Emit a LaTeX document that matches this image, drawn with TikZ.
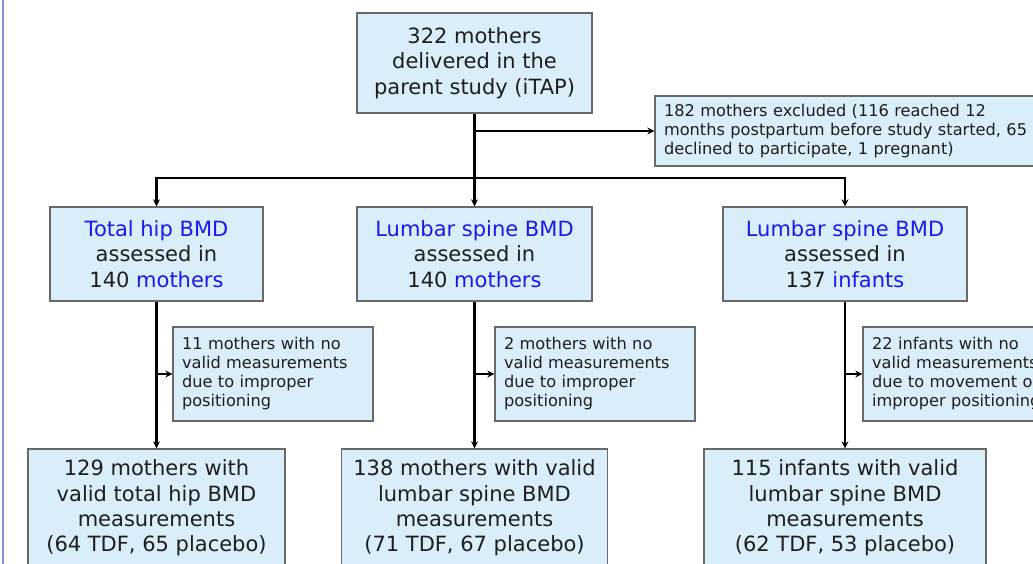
\documentclass[tikz,border=0pt]{standalone}
\usepackage{fontspec}
\setmainfont{DejaVu Sans}
\usetikzlibrary{arrows.meta}
\definecolor{boxfill}{RGB}{218,238,250}
\definecolor{boxdraw}{RGB}{105,105,105}
\definecolor{txt}{RGB}{30,30,30}
\definecolor{hl}{RGB}{25,25,235}
\definecolor{edge}{RGB}{125,145,215}
\tikzset{
  bigbox/.style={draw=boxdraw, fill=boxfill, line width=1.3pt, text=txt, align=center, inner sep=0pt,
    font=\fontsize{21}{25.3}\selectfont},
  smallbox/.style={draw=boxdraw, fill=boxfill, line width=1.3pt, text=txt, align=left, inner xsep=9pt, inner ysep=0pt,
    font=\fontsize{16.2}{19}\selectfont},
  conn/.style={line width=2.2pt, black},
  arr/.style={conn, -{Stealth[length=7pt,width=7pt]}}
}
\newcommand{\hb}[1]{\textcolor{hl}{#1}}
\begin{document}
\begin{tikzpicture}[x=1pt,y=-1pt]
\useasboundingbox (0,0) rectangle (1033,564);
\clip (0,0) rectangle (1033,564);
\fill[white] (0,0) rectangle (1033,564);
\draw[edge, line width=2pt] (3,-5) -- (3,570);

\node[bigbox, minimum width=235pt, minimum height=100pt] (top) at (474.5,63) {322 mothers\\delivered in the\\parent study (iTAP)};
\node[smallbox, minimum width=400pt, minimum height=70pt, text width=382pt] (excl) at (855,131) {182 mothers excluded (116 reached 12\\months postpartum before study started, 65\\declined to participate, 1 pregnant)};

\node[bigbox, minimum width=213pt, minimum height=94pt] (a1) at (156.5,254) {\hb{Total hip BMD}\\assessed in\\140 \hb{mothers}};
\node[bigbox, minimum width=235pt, minimum height=94pt] (a2) at (474.5,254) {\hb{Lumbar spine BMD}\\assessed in\\140 \hb{mothers}};
\node[bigbox, minimum width=244pt, minimum height=94pt] (a3) at (845,254) {\hb{Lumbar spine BMD}\\assessed in\\137 \hb{infants}};

\node[smallbox, minimum width=200pt, minimum height=94pt, text width=182pt] (s1) at (273,374) {11 mothers with no\\valid measurements\\due to improper\\positioning};
\node[smallbox, minimum width=200pt, minimum height=94pt, text width=182pt] (s2) at (595,374) {2 mothers with no\\valid measurements\\due to improper\\positioning};
\node[smallbox, minimum width=220pt, minimum height=94pt, text width=202pt] (s3) at (973,374) {22 infants with no\\valid measurements\\due to movement or\\improper positioning};

\node[bigbox, minimum width=257pt, minimum height=118pt] (b1) at (156.5,508) {129 mothers with\\valid total hip BMD\\measurements\\(64 TDF, 65 placebo)};
\node[bigbox, minimum width=266pt, minimum height=118pt] (b2) at (474.5,508) {138 mothers with valid\\lumbar spine BMD\\measurements\\(71 TDF, 67 placebo)};
\node[bigbox, minimum width=282pt, minimum height=118pt] (b3) at (845,508) {115 infants with valid\\lumbar spine BMD\\measurements\\(62 TDF, 53 placebo)};

\coordinate (j) at (474.5,178);
\coordinate (e) at (top.south |- excl.west);
\draw[conn] (top.south) -- (j);
\draw[arr] (e) -- (excl.west);
\draw[arr] (j) -| (a1.north);
\draw[arr] (j) -- (a2.north);
\draw[arr] (j) -| (a3.north);

\draw[arr] (a1.south) -- (b1.north);
\draw[arr] (a2.south) -- (b2.north);
\draw[arr] (a3.south) -- (b3.north);

\coordinate (k1) at (a1.south |- s1.west);
\coordinate (k2) at (a2.south |- s2.west);
\coordinate (k3) at (a3.south |- s3.west);
\draw[arr] (k1) -- (s1.west);
\draw[arr] (k2) -- (s2.west);
\draw[arr] (k3) -- (s3.west);
\end{tikzpicture}
\end{document}
